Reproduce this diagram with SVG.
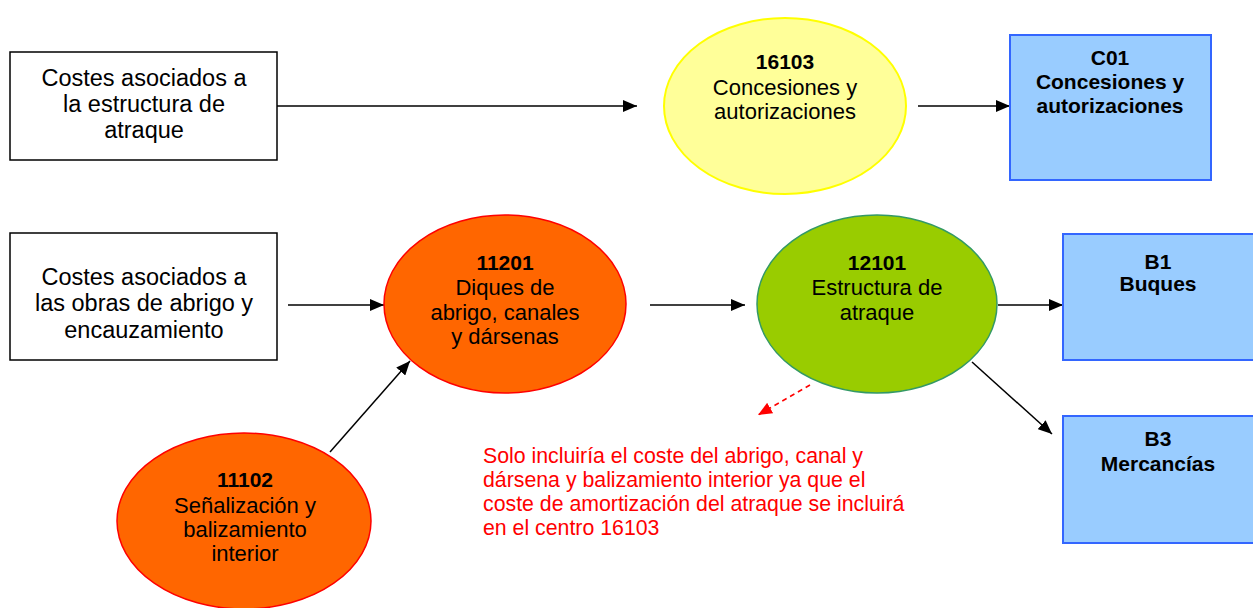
<svg xmlns="http://www.w3.org/2000/svg" width="1253" height="608" viewBox="0 0 1253 608">
<style>
text{font-family:"Liberation Sans",Arial,sans-serif;font-size:22px;fill:#000;text-anchor:middle}
.bx{font-size:23.5px}
.b{font-weight:bold;font-size:21px}
.note{fill:#ff0000;text-anchor:start;font-size:21.3px}
.box{fill:#fff;stroke:#000;stroke-width:1.5}
.blue{fill:#99ccff;stroke:#3366ff;stroke-width:2}
.con{stroke:#000;stroke-width:1.5;fill:none;marker-end:url(#ah)}
</style>
<defs>
<marker id="ah" markerWidth="14" markerHeight="12" refX="14" refY="6" orient="auto" markerUnits="userSpaceOnUse"><path d="M0,0L14,6L0,12z" fill="#000"/></marker>
<marker id="ahr" markerWidth="14" markerHeight="12" refX="14" refY="6" orient="auto" markerUnits="userSpaceOnUse"><path d="M0,0L14,6L0,12z" fill="#ff0000"/></marker>
</defs>
<rect width="1253" height="608" fill="#fff"/>
<g id="connectors">
<line class="con" x1="277" y1="106" x2="637" y2="106"/>
<line class="con" x1="918" y1="106" x2="1010" y2="106"/>
<line class="con" x1="288" y1="305" x2="384" y2="305"/>
<line class="con" x1="650" y1="305" x2="745" y2="305"/>
<line class="con" x1="998" y1="305" x2="1063" y2="305"/>
<line class="con" x1="972" y1="362" x2="1052" y2="434"/>
<line class="con" x1="330" y1="452" x2="410" y2="361"/>
<line x1="810" y1="385" x2="758" y2="415" stroke="#ff0000" stroke-width="1.5" stroke-dasharray="5,4" marker-end="url(#ahr)"/>
</g>
<g id="box-estructura">
<rect class="box" x="10" y="52" width="267" height="108"/>
<text class="bx" x="144" y="86">Costes asociados a</text>
<text class="bx" x="144" y="112">la estructura de</text>
<text class="bx" x="144" y="138">atraque</text>
</g>
<g id="n16103">
<ellipse cx="785" cy="106" rx="121" ry="88" fill="#ffff99" stroke="#ffff00" stroke-width="2"/>
<text class="b" x="785" y="69">16103</text>
<text x="785" y="95">Concesiones y</text>
<text x="785" y="119">autorizaciones</text>
</g>
<g id="c01">
<rect class="blue" x="1010" y="35" width="201" height="145"/>
<text class="b" x="1110" y="65">C01</text>
<text class="b" x="1110" y="89">Concesiones y</text>
<text class="b" x="1110" y="113">autorizaciones</text>
</g>
<g id="box-abrigo">
<rect class="box" x="10" y="233" width="267" height="127"/>
<text class="bx" x="144" y="285">Costes asociados a</text>
<text class="bx" x="144" y="311">las obras de abrigo y</text>
<text class="bx" x="144" y="338">encauzamiento</text>
</g>
<g id="n11201">
<ellipse cx="505" cy="304" rx="121" ry="89" fill="#ff6600" stroke="#ff0000" stroke-width="1.5"/>
<text class="b" x="505" y="270">11201</text>
<text x="505" y="295">Diques de</text>
<text x="505" y="320">abrigo, canales</text>
<text x="505" y="344">y dársenas</text>
</g>
<g id="n12101">
<ellipse cx="877" cy="304" rx="120" ry="89" fill="#99cc00" stroke="#339966" stroke-width="1.5"/>
<text class="b" x="877" y="270">12101</text>
<text x="877" y="295">Estructura de</text>
<text x="877" y="320">atraque</text>
</g>
<g id="b1">
<rect class="blue" x="1063" y="234" width="195" height="126"/>
<text class="b" x="1158" y="269">B1</text>
<text class="b" x="1158" y="291">Buques</text>
</g>
<g id="b3">
<rect class="blue" x="1063" y="416" width="195" height="127"/>
<text class="b" x="1158" y="446">B3</text>
<text class="b" x="1158" y="471">Mercancías</text>
</g>
<g id="n11102">
<ellipse cx="244" cy="521" rx="127" ry="88" fill="#ff6600" stroke="#ff0000" stroke-width="1.5"/>
<text class="b" x="245" y="487">11102</text>
<text x="245" y="513">Señalización y</text>
<text x="245" y="537">balizamiento</text>
<text x="245" y="561">interior</text>
</g>
<g id="note">
<text class="note" x="483" y="463">Solo incluiría el coste del abrigo, canal y</text>
<text class="note" x="483" y="487">dársena y balizamiento interior ya que el</text>
<text class="note" x="483" y="511">coste de amortización del atraque se incluirá</text>
<text class="note" x="483" y="535">en el centro 16103</text>
</g>
</svg>
